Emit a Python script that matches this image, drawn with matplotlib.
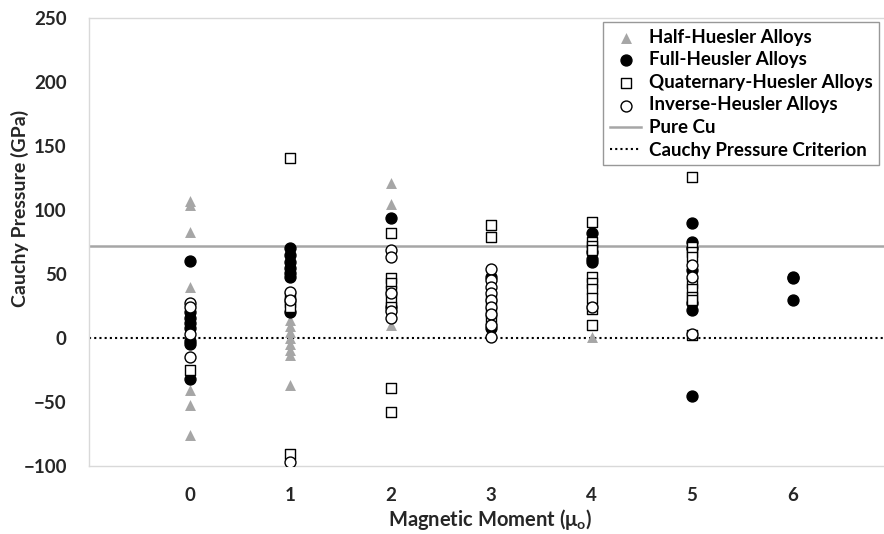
import matplotlib
matplotlib.use("Agg")
import matplotlib.pyplot as plt
import numpy as np

plt.rcParams['font.family'] = ['Lato', 'DejaVu Sans']
plt.rcParams['font.weight'] = 'bold'

# Cauchy pressure (GPa) grouped by magnetic moment
half_x = [0, 0, 0, 0, 0, 0, 0,
          1, 1, 1, 1, 1, 1, 1, 1,
          2, 2, 2,
          4]
half_y = [107, 104, 83, 40, -41, -52, -76,
          14, 9, 5, 0, -5, -9, -13, -37,
          121, 105, 10,
          1]

full_x = [0, 0, 0, 0, 0, 0, 0, 0,
          1, 1, 1, 1, 1, 1, 1,
          2, 2,
          3, 3,
          4, 4, 4, 4,
          5, 5, 5, 5, 5, 5, 5,
          6, 6, 6]
full_y = [60, 20, 16, 12, 8, -2, -5, -32,
          70, 65, 59, 55, 51, 48, 20,
          94, 24,
          48, 8,
          82, 67, 62, 59,
          90, 75, 70, 53, 27, 22, -45,
          48, 47, 30]

quat_x = [0,
          1, 1, 1, 1, 1,
          2, 2, 2, 2, 2, 2, 2, 2,
          3, 3, 3, 3, 3,
          4, 4, 4, 4, 4, 4, 4, 4, 4, 4,
          5, 5, 5, 5, 5, 5, 5, 5, 5]
quat_y = [-25,
          141, 32, 28, 24, -91,
          82, 47, 43, 37, 30, 24, -39, -58,
          88, 79, 30, 20, 14,
          91, 75, 72, 69, 48, 43, 38, 31, 23, 10,
          126, 71, 67, 63, 43, 38, 32, 30, 2]

inv_x = [0, 0, 0, 0,
         1, 1, 1,
         2, 2, 2, 2, 2,
         3, 3, 3, 3, 3, 3, 3, 3, 3,
         4,
         5, 5, 5]
inv_y = [27, 24, 3, -15,
         36, 30, -97,
         69, 63, 35, 21, 16,
         54, 45, 40, 35, 30, 24, 19, 10, 1,
         24,
         57, 48, 3]

pure_cu = 72
criterion = 0

x_ticks = [0, 1, 2, 3, 4, 5, 6]
y_ticks = [-100, -50, 0, 50, 100, 150, 200, 250]

fig = plt.figure(figsize=(8.84, 5.34), dpi=100)
ax = fig.add_axes([89 / 884, 68 / 534, (884 - 89) / 884, 448 / 534])

gray = '#a6a6a6'
text_color = '#262626'
ax.axhline(pure_cu, color=gray, lw=1.8, label='Pure Cu', zorder=1)
ax.axhline(criterion, color='black', lw=1.5, ls=(0, (1, 1.5)),
           label='Cauchy Pressure Criterion', zorder=1)

ms = 62
ax.scatter(half_x, half_y, marker='^', s=ms, color=gray, linewidths=0,
           label='Half-Huesler Alloys', zorder=3)
ax.scatter(full_x, full_y, marker='o', s=ms, color='black',
           label='Full-Heusler Alloys', zorder=4)
ax.scatter(quat_x, quat_y, marker='s', s=ms, facecolor='white',
           edgecolor='black', linewidths=1.0,
           label='Quaternary-Huesler Alloys', zorder=5)
ax.scatter(inv_x, inv_y, marker='o', s=ms, facecolor='white',
           edgecolor='black', linewidths=1.0,
           label='Inverse-Heusler Alloys', zorder=6)

ax.set_xlim(-1, 6.91)
ax.set_ylim(-100, 250)
ax.set_xticks(x_ticks)
ax.set_yticks(y_ticks)
ax.tick_params(length=0, labelsize=13.5, colors=text_color)
ax.tick_params(axis='x', pad=15)
ax.tick_params(axis='y', pad=16)
for lbl in ax.get_xticklabels() + ax.get_yticklabels():
    lbl.set_fontweight('bold')

for side in ['left', 'top', 'bottom']:
    ax.spines[side].set_color('#d9d9d9')
    ax.spines[side].set_linewidth(1.0)
ax.spines['right'].set_visible(False)

ax.set_xlabel('Magnetic Moment (\u03bc$_\\mathregular{o}$)', fontsize=14.5,
              fontweight='bold', color=text_color)
ax.set_ylabel('Cauchy Pressure (GPa)', fontsize=14, fontweight='bold',
              color=text_color)
ax.xaxis.set_label_coords((490 - 89) / 795, (466 - 507) / 448)
ax.yaxis.set_label_coords((29 - 89) / 795, (466 - 208) / 448)

handles, labels = ax.get_legend_handles_labels()
order = [2, 3, 4, 5, 0, 1]
leg = fig.legend([handles[i] for i in order], [labels[i] for i in order],
                 loc='upper left', bbox_to_anchor=(603 / 884, 1 - 22 / 534),
                 frameon=True, fancybox=False, edgecolor='#7f7f7f',
                 prop={'weight': 'bold', 'size': 13.5}, handlelength=1.7,
                 handletextpad=0.4, labelspacing=0.3, borderpad=0.35,
                 borderaxespad=0)
leg.get_frame().set_linewidth(1.0)

fig.savefig('out.png', dpi=100)
